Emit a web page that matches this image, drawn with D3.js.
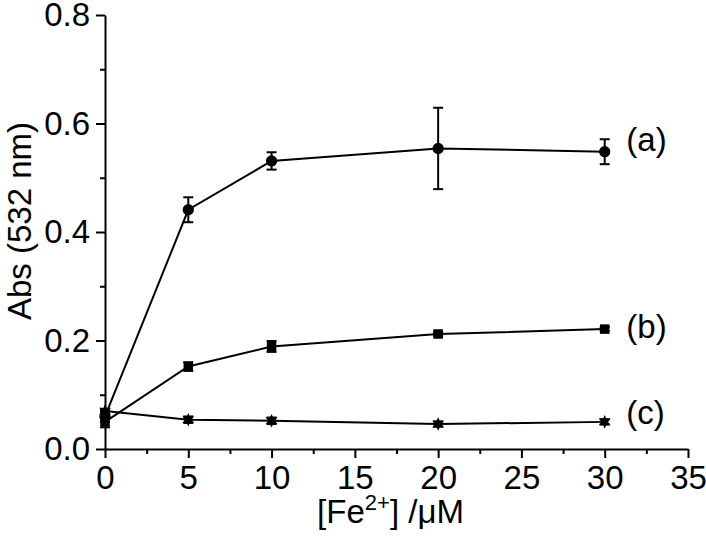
<!DOCTYPE html>
<html>
<head>
<meta charset="utf-8">
<script src="https://cdn.jsdelivr.net/npm/d3@7"></script>
<style>
  body { margin: 0; background: #fff; }
  text { font-family: "Liberation Sans", Arial, sans-serif; fill: #000; }
</style>
</head>
<body>
<script>
const conc = [0, 5, 10, 20, 30];

const seriesA = [0.060, 0.441, 0.531, 0.554, 0.548];
const errA    = [0.010, 0.023, 0.016, 0.075, 0.023];
const seriesB = [0.050, 0.152, 0.189, 0.212, 0.221];
const errB    = [0.010, 0.008, 0.010, 0.004, 0.004];
const seriesC = [0.070, 0.054, 0.052, 0.046, 0.050];
const errC    = [0.004, 0.006, 0.006, 0.005, 0.005];

const labels  = ["(a)", "(b)", "(c)"];
const labelY  = [0.570, 0.225, 0.068];
const labelX  = 31.3;

const xTicks = [0, 5, 10, 15, 20, 25, 30, 35];
const xMinor = [2.5, 7.5, 12.5, 17.5, 22.5, 27.5, 32.5];
const yTicks = [0, 0.2, 0.4, 0.6, 0.8];
const yMinor = [0.1, 0.3, 0.5, 0.7];

const width = 706, height = 538;
const mLeft = 105, mRight = 688, mTop = 15, mBottom = 449;
const fs = "33px";

const svg = d3.select("body").append("svg")
  .attr("width", width)
  .attr("height", height);

const x = d3.scaleLinear().domain([0, 35]).range([mLeft, mRight]);
const y = d3.scaleLinear().domain([0, 0.8]).range([mBottom, mTop]);

// axes
svg.append("g")
  .attr("transform", `translate(0,${mBottom})`)
  .call(d3.axisBottom(x).tickValues(xTicks).tickFormat(d3.format("d")).tickSize(9).tickPadding(8).tickSizeOuter(0));
svg.append("g")
  .attr("transform", `translate(0,${mBottom})`)
  .call(d3.axisBottom(x).tickValues(xMinor).tickFormat("").tickSize(5).tickSizeOuter(0))
  .select(".domain").remove();

svg.append("g")
  .attr("transform", `translate(${mLeft},0)`)
  .call(d3.axisLeft(y).tickValues(yTicks).tickFormat(d3.format(".1f")).tickSize(9).tickPadding(6).tickSizeOuter(0));
svg.append("g")
  .attr("transform", `translate(${mLeft},0)`)
  .call(d3.axisLeft(y).tickValues(yMinor).tickFormat("").tickSize(5).tickSizeOuter(0))
  .select(".domain").remove();

svg.selectAll(".domain, .tick line").attr("stroke", "#000").attr("stroke-width", 2);
svg.selectAll(".tick text").style("font-size", fs).attr("fill", "#000");

// axis titles
svg.append("text")
  .attr("transform", `translate(31,${320}) rotate(-90)`)
  .style("font-size", fs)
  .text("Abs (532 nm)");

const xt = svg.append("text")
  .attr("x", (mLeft + mRight) / 2 - 6)
  .attr("y", 523)
  .attr("text-anchor", "middle")
  .style("font-size", fs);
xt.append("tspan").text("[Fe");
xt.append("tspan").attr("dy", -13).style("font-size", "22px").text("2+");
xt.append("tspan").attr("dy", 13).text("] /\u03bcM");

// series
const star6 = {
  draw(ctx, size) {
    const r = Math.sqrt(size) * 0.62;
    const r2 = r * 0.5;
    for (let i = 0; i < 12; i++) {
      const a = i * Math.PI / 6 - Math.PI / 2;
      const rr = i % 2 === 0 ? r : r2;
      if (i === 0) ctx.moveTo(rr * Math.cos(a), rr * Math.sin(a));
      else ctx.lineTo(rr * Math.cos(a), rr * Math.sin(a));
    }
    ctx.closePath();
  }
};

const series = [
  {vals: seriesA, err: errA, sym: d3.symbolCircle, size: 100},
  {vals: seriesB, err: errB, sym: d3.symbolSquare, size: 90},
  {vals: seriesC, err: errC, sym: star6, size: 120}
];

const line = d3.line().x(d => x(d[0])).y(d => y(d[1]));

series.forEach((s, i) => {
  const pts = conc.map((c, j) => [c, s.vals[j], s.err[j]]);
  const g = svg.append("g");

  g.append("path")
    .datum(pts)
    .attr("d", line)
    .attr("fill", "none")
    .attr("stroke", "#000")
    .attr("stroke-width", 2);

  const eb = g.selectAll(".err").data(pts).enter().append("g").attr("class", "err");
  eb.append("line")
    .attr("x1", d => x(d[0])).attr("x2", d => x(d[0]))
    .attr("y1", d => y(d[1] - d[2])).attr("y2", d => y(d[1] + d[2]))
    .attr("stroke", "#000").attr("stroke-width", 2);
  [-1, 1].forEach(sgn => {
    eb.append("line")
      .attr("x1", d => x(d[0]) - 5).attr("x2", d => x(d[0]) + 5)
      .attr("y1", d => y(d[1] + sgn * d[2])).attr("y2", d => y(d[1] + sgn * d[2]))
      .attr("stroke", "#000").attr("stroke-width", 2);
  });

  g.selectAll(".mark").data(pts).enter().append("path")
    .attr("class", "mark")
    .attr("transform", d => `translate(${x(d[0])},${y(d[1])})`)
    .attr("d", d3.symbol().type(s.sym).size(s.size))
    .attr("fill", "#000");

  svg.append("text")
    .attr("x", x(labelX))
    .attr("y", y(labelY[i]))
    .attr("dy", "0.35em")
    .style("font-size", fs)
    .text(labels[i]);
});
</script>
</body>
</html>
